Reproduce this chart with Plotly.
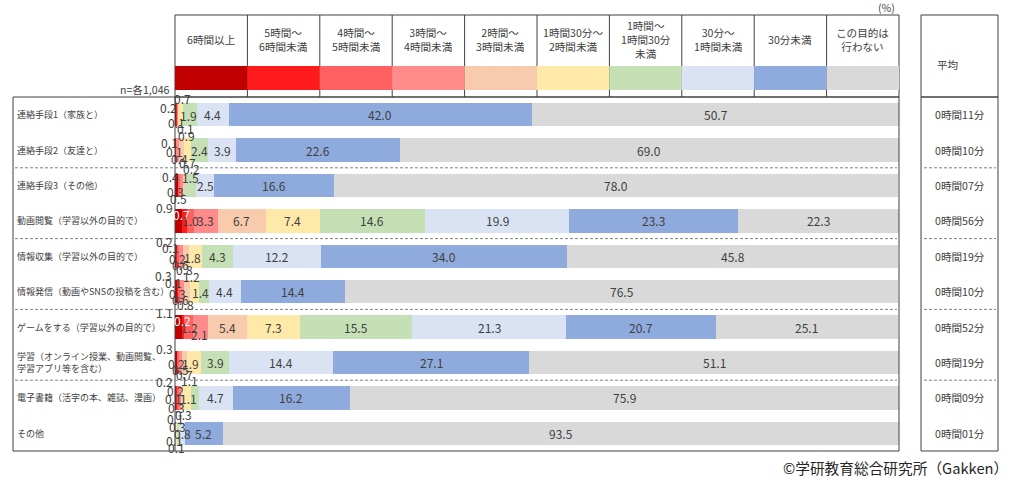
import plotly.graph_objects as go

# ---------------- data ----------------
rows = [
    "連絡手段1（家族と）",
    "連絡手段2（友達と）",
    "連絡手段3（その他）",
    "動画閲覧（学習以外の目的で）",
    "情報収集（学習以外の目的で）",
    "情報発信（動画やSNSの投稿を含む）",
    "ゲームをする（学習以外の目的で）",
    "学習（オンライン授業、動画閲覧、<br>学習アプリ等を含む）",
    "電子書籍（活字の本、雑誌、漫画）",
    "その他",
]
series_names = [
    "6時間以上",
    "5時間〜<br>6時間未満",
    "4時間〜<br>5時間未満",
    "3時間〜<br>4時間未満",
    "2時間〜<br>3時間未満",
    "1時間30分〜<br>2時間未満",
    "1時間〜<br>1時間30分<br>未満",
    "30分〜<br>1時間未満",
    "30分未満",
    "この目的は<br>行わない",
]
h6_plus = [0.2, 0.1, 0.4, 0.9, 0.2, 0.3, 1.1, 0.3, 0.2, 0.0]
h5_6 = [0.1, 0.1, 0.0, 0.7, 0.1, 0.1, 0.2, 0.0, 0.2, 0.0]
h4_5 = [0.0, 0.0, 0.3, 1.0, 0.2, 0.3, 1.2, 0.2, 0.1, 0.0]
h3_4 = [0.1, 0.4, 0.5, 3.3, 0.6, 0.6, 2.1, 0.5, 0.3, 0.1]
h2_3 = [0.0, 0.7, 0.2, 6.7, 0.8, 0.8, 5.4, 0.7, 0.3, 0.1]
h15_2 = [0.7, 0.9, 0.0, 7.4, 1.8, 1.2, 7.3, 1.9, 1.1, 0.1]
h1_15 = [1.9, 2.4, 1.5, 14.6, 4.3, 1.4, 15.5, 3.9, 1.1, 0.3]
m30_1h = [4.4, 3.9, 2.5, 19.9, 12.2, 4.4, 21.3, 14.4, 4.7, 0.8]
m_lt30 = [42.0, 22.6, 16.6, 23.3, 34.0, 14.4, 20.7, 27.1, 16.2, 5.2]
not_do = [50.7, 69.0, 78.0, 22.3, 45.8, 76.5, 25.1, 51.1, 75.9, 93.5]
series_values = [h6_plus, h5_6, h4_5, h3_4, h2_3, h15_2, h1_15, m30_1h, m_lt30, not_do]
averages = ["0時間11分", "0時間10分", "0時間07分", "0時間56分", "0時間19分",
            "0時間10分", "0時間52分", "0時間19分", "0時間09分", "0時間01分"]

# ---------------- styles ----------------
colors = ["#C00000", "#FF1B1B", "#FF6161", "#FF8B8B", "#F8CBAD",
          "#FFE9A9", "#C5E0B4", "#DAE3F3", "#8FAADC", "#D9D9D9"]
FONT = "Noto Sans CJK JP"
TXT = "#404040"
LINE = "#404040"

# label offsets (pixels, dx right, dy down) for crowded small labels
label_offsets = {
    (0, 0): (-7.7, -7), (0, 1): (-0.8, 7.5), (0, 3): (7.5, 13.5), (0, 5): (1.6, -16), (0, 6): (-1, 1),
    (1, 0): (-5.4, -7.5), (1, 1): (-1.1, 1), (1, 3): (2.1, 8), (1, 4): (6.1, 12.5), (1, 5): (-0.7, -14.5),
    (2, 0): (-6.4, -9.5), (2, 2): (-3, 5.5), (2, 3): (-2.9, 13), (2, 4): (6.6, -17), (2, 6): (0, -8),
    (3, 0): (-13.8, -13), (3, 1): (-2.5, -6),
    (4, 0): (-11.7, -15), (4, 1): (-6.8, -8.5), (4, 2): (-0.4, 2), (4, 3): (0.2, 8.5), (4, 4): (-1.4, 13.5), (4, 5): (-3, 1),
    (5, 0): (-12.6, -16), (5, 1): (-4.5, -9.5), (5, 2): (-1.5, 1.5), (5, 3): (-2.2, 7.5), (5, 4): (-1.8, 12.5),
    (5, 5): (-3.5, -15), (5, 6): (-3.5, 1),
    (6, 0): (-14, -14.5), (6, 1): (-0.7, -7), (6, 2): (0.7, 0.5), (6, 3): (-1.2, 7),
    (7, 0): (-11.1, -14.5), (7, 2): (-1.4, 0.5), (7, 3): (-0.4, 6.5), (7, 4): (-0.3, 11.5), (7, 5): (-3.7, 0.5),
    (8, 0): (-11.7, -16), (8, 1): (-1.2, -7), (8, 2): (-4.3, 1), (8, 3): (-3.2, 9.5), (8, 4): (1.6, 17),
    (8, 5): (2.6, -17), (8, 6): (-6.4, 1),
    (9, 3): (-0.4, 7), (9, 4): (0.4, 14.5), (9, 5): (-1.8, -14.5), (9, 6): (-0.8, -7),
}
white_labels = {(3, 1), (6, 1)}

W, H = 1030, 485
L, R, T, B = 175, 899, 97, 451  # plot area in window pixels


def px2x(p):
    return (p - L) / (R - L)


def px2y(p):
    return (B - p) / (B - T)


fig = go.Figure()
ypos = list(range(len(rows)))
for s, vals in enumerate(series_values):
    fig.add_trace(go.Bar(
        y=ypos, x=vals, orientation="h", name=series_names[s].replace("<br>", ""),
        marker=dict(color=colors[s], line=dict(width=0)),
        hoverinfo="x+name", showlegend=False,
    ))

annotations = []
# value labels
for r in range(len(rows)):
    cum = 0.0
    for s, vals in enumerate(series_values):
        v = vals[r]
        center = cum + v / 2
        cum += v
        if v <= 0:
            continue
        dx, dy = label_offsets.get((r, s), (0, 0))
        annotations.append(dict(
            x=center, y=r, xref="x", yref="y", text=f"{v:.1f}", showarrow=False,
            xshift=dx, yshift=-dy,
            font=dict(family=FONT, size=12, color="white" if (r, s) in white_labels else TXT),
        ))

# row labels and averages
for r, name in enumerate(rows):
    annotations.append(dict(
        x=px2x(15), y=1 - (r + 0.5) / 10, xref="paper", yref="paper", text=name,
        showarrow=False, xanchor="left", yanchor="middle", align="left",
        font=dict(family=FONT, size=9.0, color=TXT),
    ))
    annotations.append(dict(
        x=px2x(959.5), y=1 - (r + 0.5) / 10, xref="paper", yref="paper", text=averages[r],
        showarrow=False, xanchor="center", yanchor="middle",
        font=dict(family=FONT, size=10.6, color=TXT),
    ))

shapes = []
cw = (R - L) / 10
# header frame
shapes.append(dict(type="rect", xref="paper", yref="paper", x0=px2x(L), x1=px2x(R),
                   y0=px2y(15), y1=px2y(T), line=dict(color=LINE, width=1)))
for k in range(1, 10):
    xx = px2x(L + cw * k)
    shapes.append(dict(type="line", xref="paper", yref="paper", x0=xx, x1=xx,
                       y0=px2y(15), y1=px2y(T), line=dict(color=LINE, width=1)))
for k in range(10):
    shapes.append(dict(type="rect", xref="paper", yref="paper",
                       x0=px2x(L + cw * k), x1=px2x(L + cw * (k + 1)),
                       y0=px2y(90), y1=px2y(66), fillcolor=colors[k], line=dict(width=0)))
    annotations.append(dict(
        x=px2x(L + cw * (k + 0.5)), y=px2y(39.5), xref="paper", yref="paper",
        text=series_names[k], showarrow=False, xanchor="center", yanchor="middle",
        font=dict(family=FONT, size=10.6, color=TXT),
    ))
# main frame
shapes.append(dict(type="rect", xref="paper", yref="paper", x0=px2x(13), x1=px2x(R),
                   y0=0, y1=1, line=dict(color=LINE, width=1)))
shapes.append(dict(type="line", xref="paper", yref="paper", x0=0, x1=0,
                   y0=0, y1=1, line=dict(color=LINE, width=1)))
# average column
AX0, AX1 = 921, 998
shapes.append(dict(type="rect", xref="paper", yref="paper", x0=px2x(AX0), x1=px2x(AX1),
                   y0=px2y(15), y1=px2y(T), line=dict(color=LINE, width=1)))
shapes.append(dict(type="rect", xref="paper", yref="paper", x0=px2x(AX0), x1=px2x(AX1),
                   y0=0, y1=1, line=dict(color=LINE, width=1)))
# dashed separators
for k in (2, 4, 6, 8):
    yy = 1 - k / 10
    shapes.append(dict(type="line", xref="paper", yref="paper", x0=px2x(15), x1=px2x(897),
                       y0=yy, y1=yy, line=dict(color="#808080", width=1, dash="3px,2px")))
    shapes.append(dict(type="line", xref="paper", yref="paper", x0=px2x(924), x1=px2x(996),
                       y0=yy, y1=yy, line=dict(color="#808080", width=1, dash="3px,2px")))

annotations += [
    dict(x=px2x(959.5), y=px2y(55), xref="paper", yref="paper", text="平均", showarrow=False,
         font=dict(family=FONT, size=10.6, color=TXT)),
    dict(x=px2x(172), y=px2y(89), xref="paper", yref="paper", text="n=各1,046", showarrow=False,
         xanchor="right", yanchor="middle", font=dict(family=FONT, size=10.6, color=TXT)),
    dict(x=px2x(897), y=px2y(8), xref="paper", yref="paper", text="(%)", showarrow=False,
         xanchor="right", yanchor="middle", font=dict(family=FONT, size=10.6, color=TXT)),
    dict(x=px2x(1010), y=px2y(467), xref="paper", yref="paper", text="©学研教育総合研究所（Gakken）",
         showarrow=False, xanchor="right", yanchor="middle", font=dict(family=FONT, size=14.7, color="#262626")),
]

fig.update_layout(
    width=W, height=H, barmode="stack", bargap=0.34,
    margin=dict(l=L, r=W - R, t=T, b=H - B, pad=0),
    paper_bgcolor="white", plot_bgcolor="white",
    xaxis=dict(range=[0, 100.1], visible=False, fixedrange=True),
    yaxis=dict(range=[9.5, -0.5], visible=False, fixedrange=True),
    shapes=shapes, annotations=annotations, showlegend=False,
    font=dict(family=FONT, color=TXT),
)
fig.write_html("out.html", config={"displayModeBar": False},
               post_script="document.body.style.margin='0px';")
